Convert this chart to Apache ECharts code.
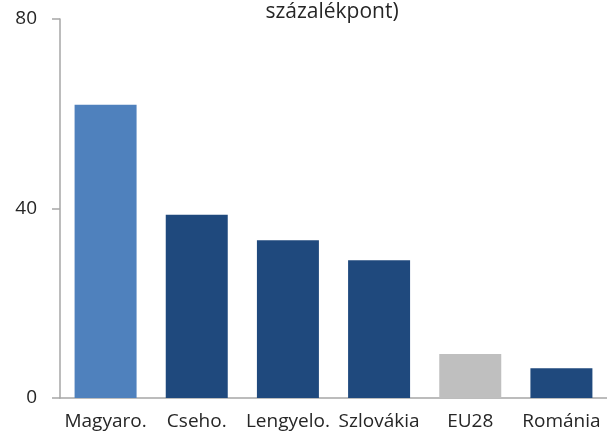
<!DOCTYPE html>
<html>
<head>
<meta charset="utf-8">
<script src="https://cdn.jsdelivr.net/npm/echarts@6/dist/echarts.min.js"></script>
<style>
html,body{margin:0;padding:0;background:#fff;}
#chart{width:607px;height:432px;}
</style>
</head>
<body>
<div id="chart"></div>
<script>
var categories = ['Magyaro.', 'Cseho.', 'Lengyelo.', 'Szlovákia', 'EU28', 'Románia'];
var values = [61.9, 38.7, 33.3, 29.1, 9.3, 6.3];
var barColors = ['#4F81BD', '#1F497D', '#1F497D', '#1F497D', '#BFBFBF', '#1F497D'];
var yTicks = [0, 40, 80];

var font = '"Open Sans", "Noto Sans", sans-serif';
var myChart = echarts.init(document.getElementById('chart'));
myChart.setOption({
    animation: false,
    grid: { left: 60, right: 0, top: 19, bottom: 34 },
    graphic: [{
        type: 'text',
        x: 332,
        y: 12,
        style: {
            text: 'százalékpont)',
            font: '21px ' + font,
            fill: '#262626',
            align: 'center',
            verticalAlign: 'middle'
        }
    }],
    xAxis: {
        type: 'category',
        data: categories,
        axisLine: { lineStyle: { color: '#A6A6A6', width: 1.5 } },
        axisTick: { show: false },
        axisLabel: { color: '#262626', fontSize: 19, fontFamily: font, margin: 14, interval: 0 }
    },
    yAxis: {
        type: 'value',
        min: yTicks[0],
        max: yTicks[yTicks.length - 1],
        interval: 40,
        splitLine: { show: false },
        axisLine: { show: true, lineStyle: { color: '#A6A6A6', width: 1.5 } },
        axisTick: { show: true, length: 8, lineStyle: { color: '#A6A6A6', width: 1.5 } },
        axisLabel: { color: '#262626', fontSize: 19, fontFamily: font, margin: 23 }
    },
    series: [{
        type: 'bar',
        barWidth: '68%',
        data: values.map(function (v, i) {
            return { value: v, itemStyle: { color: barColors[i] } };
        })
    }]
});
</script>
</body>
</html>
